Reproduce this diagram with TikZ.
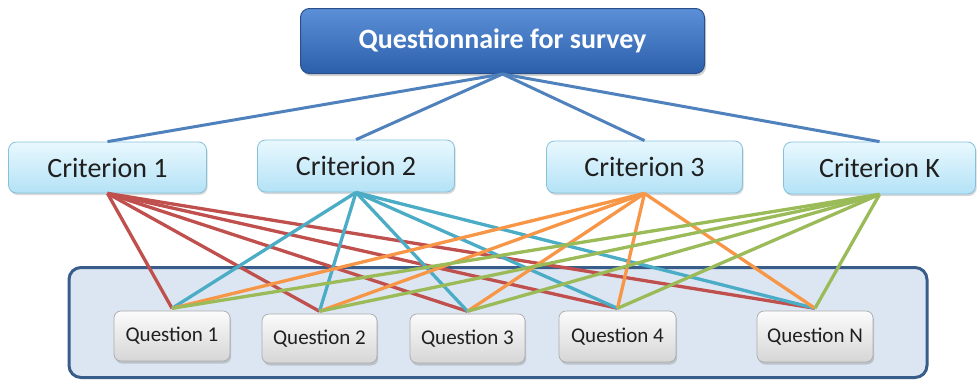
\documentclass[tikz,border=0pt]{standalone}
\usepackage{fontspec}
\setmainfont{Carlito}
\usetikzlibrary{shadows}
\definecolor{linkblue}{HTML}{4F81BD}
\definecolor{linkred}{HTML}{C0504D}
\definecolor{linkteal}{HTML}{4BACC6}
\definecolor{linkorange}{HTML}{F79646}
\definecolor{linkgreen}{HTML}{9BBB59}
\definecolor{titletop}{HTML}{5B90D8}
\definecolor{titlebot}{HTML}{2C5FAA}
\definecolor{titleedge}{HTML}{2A4F8A}
\definecolor{crittop}{HTML}{E9F8FE}
\definecolor{critbot}{HTML}{B3E2F6}
\definecolor{critedge}{HTML}{86C1DA}
\definecolor{qtop}{HTML}{FBFBFB}
\definecolor{qbot}{HTML}{D6D6D6}
\definecolor{qedge}{HTML}{ABABAB}
\definecolor{poolfill}{HTML}{DCE6F2}
\definecolor{pooledge}{HTML}{385D8A}
\tikzset{
  x=1pt, y=-1pt,
  titlebox/.style={rounded corners=9pt, draw=titleedge, line width=1pt,
    top color=titletop, bottom color=titlebot, text=white, inner sep=0pt,
    font=\fontsize{28}{30}\selectfont\bfseries,
    drop shadow={shadow xshift=1.5pt, shadow yshift=-2.5pt, opacity=0.35}},
  critbox/.style={rounded corners=8pt, draw=critedge, line width=0.8pt,
    top color=crittop, bottom color=critbot, text=black!88, inner sep=0pt,
    font=\fontsize{28}{30}\selectfont,
    drop shadow={shadow xshift=1.2pt, shadow yshift=-2pt, opacity=0.3}},
  qbox/.style={rounded corners=7pt, draw=qedge, line width=0.7pt,
    top color=qtop, bottom color=qbot, text=black!88, inner sep=0pt,
    font=\fontsize{21}{23}\selectfont,
    drop shadow={shadow xshift=1.2pt, shadow yshift=-2.5pt, opacity=0.35}},
  pool/.style={rounded corners=12pt, draw=pooledge, line width=3pt, fill=poolfill},
  toplink/.style={draw=linkblue, line width=3pt},
  link/.style={line width=3.3pt},
}
\begin{document}
\begin{tikzpicture}
\useasboundingbox (0,0) rectangle (977,381);
\fill[white] (0,0) rectangle (977,381);

% question pool
\node[pool, minimum width=858pt, minimum height=110pt] (pool) at (498,322.5) {};

% title and criteria
\node[titlebox, minimum width=404pt, minimum height=65pt] (top) at (502.5,41) {Questionnaire for survey};
\node[critbox, minimum width=198pt, minimum height=51pt] (c1) at (107.5,167.5) {Criterion 1};
\node[critbox, minimum width=197pt, minimum height=52pt] (c2) at (356,166) {Criterion 2};
\node[critbox, minimum width=196pt, minimum height=52pt] (c3) at (644.5,167) {Criterion 3};
\node[critbox, minimum width=192pt, minimum height=52pt] (ck) at (879.5,168) {Criterion K};

% question positions and placeholders (boxes are drawn on top of the links)
\path (172,335) coordinate (q1p) (319.5,337.5) coordinate (q2p) (467.5,337.5) coordinate (q3p)
      (617.5,335.5) coordinate (q4p) (815,335.5) coordinate (qnp);
\node[minimum width=116pt, minimum height=50pt, inner sep=0pt] (q1) at (q1p) {};
\node[minimum width=115pt, minimum height=49pt, inner sep=0pt] (q2) at (q2p) {};
\node[minimum width=115pt, minimum height=49pt, inner sep=0pt] (q3) at (q3p) {};
\node[minimum width=117pt, minimum height=51pt, inner sep=0pt] (q4) at (q4p) {};
\node[minimum width=116pt, minimum height=51pt, inner sep=0pt] (qn) at (qnp) {};

% title to criteria
\foreach \c in {c1,c2,c3,ck}
  \draw[toplink] (top.south) -- (\c.north);

% criteria to questions
\foreach \c/\col in {c1/linkred, c2/linkteal, c3/linkorange, ck/linkgreen}
  \foreach \q in {q1,q2,q3,q4,qn}
    \draw[link, draw=\col] (\c.south) -- ([yshift=1.5pt]\q.north);

% question boxes
\node[qbox, minimum width=116pt, minimum height=50pt] at ([yshift=-1pt]q1p) {Question 1};
\node[qbox, minimum width=115pt, minimum height=49pt] at ([yshift=-1pt]q2p) {Question 2};
\node[qbox, minimum width=115pt, minimum height=49pt] at ([yshift=-1pt]q3p) {Question 3};
\node[qbox, minimum width=117pt, minimum height=51pt] at ([yshift=-1pt]q4p) {Question 4};
\node[qbox, minimum width=116pt, minimum height=51pt] at ([yshift=-1pt]qnp) {Question N};
\end{tikzpicture}
\end{document}
